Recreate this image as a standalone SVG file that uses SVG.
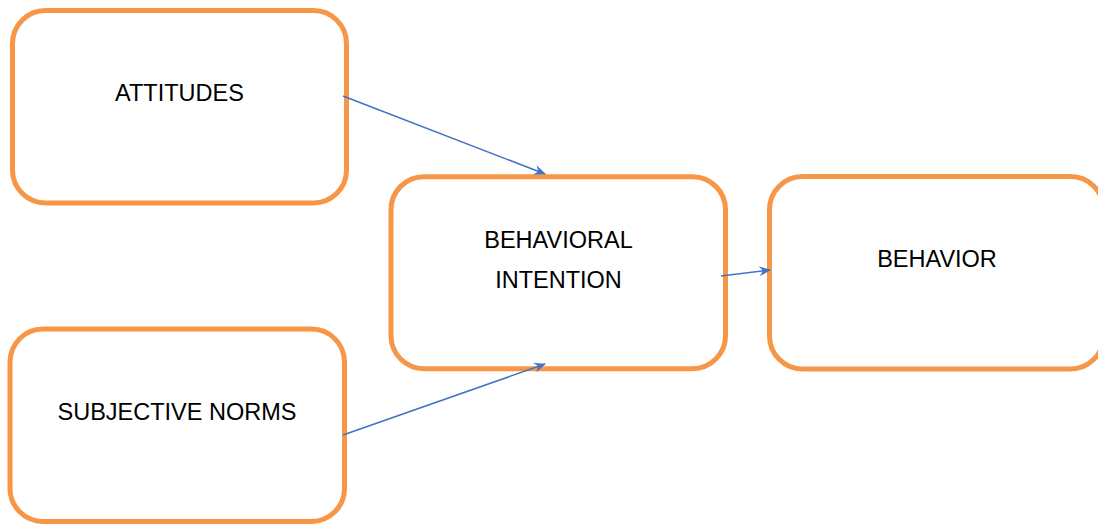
<svg xmlns="http://www.w3.org/2000/svg" width="1098" height="525" viewBox="0 0 1098 525">
<defs>
<style>
.box{fill:#fff;stroke:#F79646;stroke-width:5}
.lbl{font-family:"Liberation Sans",Arial,sans-serif;font-size:23.5px;fill:#000;text-anchor:middle}
.con{stroke:#4472C4;stroke-width:1.6;fill:none;marker-end:url(#ah)}
</style>
<marker id="ah" viewBox="0 0 12 10" refX="11" refY="5" markerWidth="12" markerHeight="10" markerUnits="userSpaceOnUse" orient="auto">
<path d="M0,0 L12,5 L0,10 L4,5 z" fill="#4472C4"/>
</marker>
</defs>
<rect width="1098" height="525" fill="#fff"/>
<g id="attitudes">
<rect class="box" x="12.5" y="10.5" width="334" height="192.5" rx="33"/>
<text class="lbl" x="179.5" y="101">ATTITUDES</text>
</g>
<g id="subjective-norms">
<rect class="box" x="10" y="329" width="334.5" height="192.5" rx="33"/>
<text class="lbl" x="177" y="420">SUBJECTIVE NORMS</text>
</g>
<g id="behavioral-intention">
<rect class="box" x="391" y="176.7" width="334.5" height="192" rx="33"/>
<text class="lbl" x="558.5" y="248">BEHAVIORAL</text>
<text class="lbl" x="558.5" y="288">INTENTION</text>
</g>
<g id="behavior">
<rect class="box" x="769.5" y="176.5" width="334" height="192.5" rx="33"/>
<text class="lbl" x="937" y="267">BEHAVIOR</text>
</g>
<g id="connectors">
<line class="con" x1="343" y1="96" x2="545" y2="174"/>
<line class="con" x1="343" y1="435" x2="545" y2="364"/>
<line class="con" x1="721" y1="276" x2="770" y2="270"/>
</g>
</svg>
